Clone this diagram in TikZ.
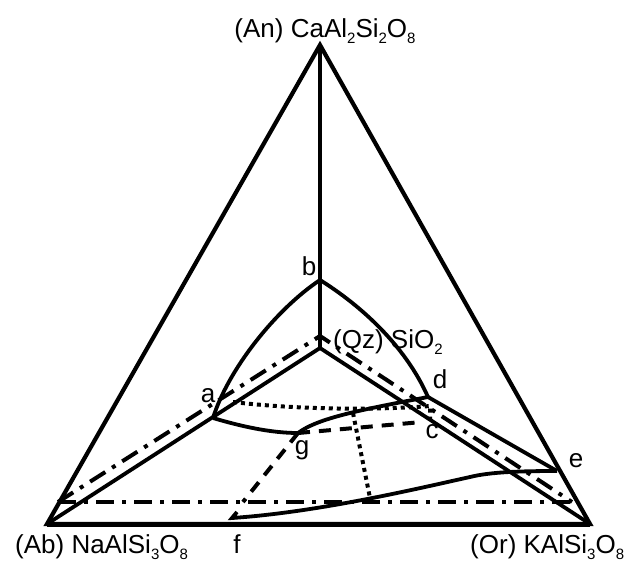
\documentclass[tikz,border=0pt]{standalone}
\usepackage{fontspec}
\setmainfont{Liberation Sans}
\newcommand\chsub[1]{\raisebox{-6pt}{\fontsize{15}{15}\selectfont #1}}
\begin{document}
\begin{tikzpicture}[x=1pt,y=-1pt,
  edge/.style={line width=4.2pt, line join=miter},
  solidln/.style={line width=3.8pt},
  dashdotln/.style={line width=4pt, dash pattern=on 18pt off 8pt on 4pt off 8pt},
  dottedln/.style={line width=4pt, dash pattern=on 4pt off 4pt},
  dashedln/.style={line width=4pt, dash pattern=on 12pt off 9pt},
  lbl/.style={font=\fontsize{26}{30}\selectfont, inner sep=0pt, anchor=base}]
\useasboundingbox (0,0) rectangle (636,565);

% corners of the ternary diagram and the projected quartz apex
\coordinate (An) at (320,45);
\coordinate (Ab) at (47,524);
\coordinate (Or) at (590,524);
\coordinate (Qz) at (320,348);

% invariant points and curve ends
\coordinate (b) at (320,280);
\coordinate (a) at (213,418);
\coordinate (d) at (428,397);
\coordinate (e) at (557,471);
\coordinate (g) at (298,433);
\coordinate (c) at (422,422);
\coordinate (f) at (232,518);
\coordinate (fhook) at (237,512);
\coordinate (bend) at (470,477);

% plane section (dash-dot)
\coordinate (L) at (58,502);
\coordinate (R) at (572,502);
\coordinate (P) at (320,336);

% auxiliary points of the dotted and dashed traces
\coordinate (p1) at (233,402);
\coordinate (p2) at (430,406);
\coordinate (p3) at (430,419);
\coordinate (v1) at (353,413);
\coordinate (v2) at (370,498);
\coordinate (h1) at (243,502);

% triangle
\draw[edge] (An) -- (Or) -- (Ab) -- cycle;
\draw[line width=5pt] (Ab) -- (Or);

% tetrahedron edges towards quartz
\draw[solidln] (An) -- (Qz);
\draw[solidln] (Qz) -- (Ab);
\draw[solidln] (Qz) -- (Or);

% cotectic curves
\draw[solidln] (b) .. controls (275,310) and (228,370) .. (a);
\draw[solidln] (b) .. controls (360,305) and (405,345) .. (d);
\draw[solidln] (d) -- (e);
\draw[solidln] (a) .. controls (240,426) and (270,433) .. (g);
\draw[solidln] (g) .. controls (318,418) and (360,410) .. (d);
\draw[solidln] (fhook) -- (f) .. controls (320,512) and (420,488) .. (bend)
   .. controls (490,472) and (520,471) .. (e);

% dash-dot section
\draw[dashdotln] (L) -- (P) -- (R);
\draw[dashdotln] (L) -- (R);

% dotted traces
\draw[dottedln] (p1) .. controls (300,410) and (380,410) .. (p2) -- (p3);
\draw[dottedln] (v1) -- (v2);

% dashed traces
\draw[dashedln] (g) -- (c);
\draw[dashedln] (g) -- (h1);

% labels
\node[lbl] (tAn) at (325,37) {(An) CaAl\chsub{2}Si\chsub{2}O\chsub{8}};
\node[lbl, anchor=base west] (tAb) at (15,553) {(Ab) NaAlSi\chsub{3}O\chsub{8}};
\node[lbl, anchor=base west] (tOr) at (470,553) {(Or) KAlSi\chsub{3}O\chsub{8}};
\node[lbl, anchor=base west] (tQz) at (333,348) {(Qz) SiO\chsub{2}};
\node[lbl] (tf) at (237,553) {f};
\node[lbl] (tb) at (309,275) {b};
\node[lbl] (ta) at (208,402) {a};
\node[lbl] (td) at (440,388) {d};
\node[lbl] (tc) at (432,438) {c};
\node[lbl] (tg) at (302,454) {g};
\node[lbl] (te) at (576,467) {e};
\end{tikzpicture}
\end{document}
